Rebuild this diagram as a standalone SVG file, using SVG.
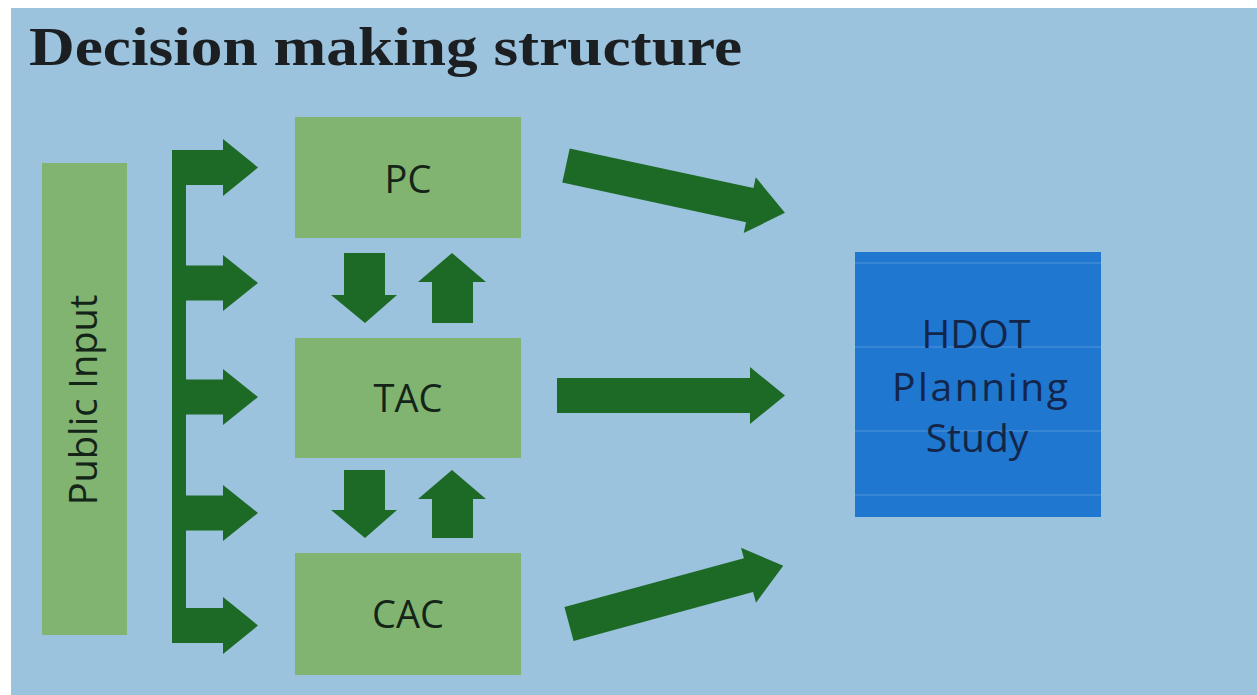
<svg xmlns="http://www.w3.org/2000/svg" width="1257" height="695" viewBox="0 0 1257 695">
  <style>
    .box { fill: #80b470; }
    .arrow { fill: #1d6a27; }
    .lbl { font-family: "Open Sans", "Liberation Sans", sans-serif; font-size: 38px; fill: #142418; text-anchor: middle; }
    .hlbl { font-family: "Open Sans", "Liberation Sans", sans-serif; font-size: 39px; fill: #13264a; text-anchor: middle; }
    .title { font-family: "Liberation Serif", "Times New Roman", serif; font-weight: bold; font-size: 54px; fill: #1c1f22; }
    .hline { stroke: #4f96da; stroke-width: 1.2; }
  </style>
  <rect x="0" y="0" width="1257" height="695" fill="#ffffff"/>
  <rect x="11" y="8" width="1246" height="687" fill="#9cc3dd"/>

  <text class="title" x="29" y="65" textLength="713" lengthAdjust="spacingAndGlyphs">Decision making structure</text>

  <g id="public-input">
    <rect class="box" x="42" y="163" width="85" height="472"/>
    <text class="lbl" transform="translate(97,400) rotate(-90)" x="0" y="0">Public Input</text>
  </g>

  <g id="pc">
    <rect class="box" x="295" y="117" width="226" height="121"/>
    <text class="lbl" x="408" y="193">PC</text>
  </g>

  <g id="tac">
    <rect class="box" x="295" y="338" width="226" height="120"/>
    <text class="lbl" x="408" y="412">TAC</text>
  </g>

  <g id="cac">
    <rect class="box" x="295" y="553" width="226" height="122"/>
    <text class="lbl" x="408" y="628">CAC</text>
  </g>

  <g id="hdot">
    <rect x="855" y="252" width="246" height="265" fill="#1f77d0"/>
    <line class="hline" x1="855" y1="263" x2="1101" y2="263"/>
    <line class="hline" x1="855" y1="347" x2="1101" y2="347"/>
    <line class="hline" x1="855" y1="431" x2="1101" y2="431"/>
    <line class="hline" x1="855" y1="495" x2="1101" y2="495"/>
    <text class="hlbl" x="976" y="348">HDOT</text>
    <text class="hlbl" x="980" y="401" textLength="176" lengthAdjust="spacing">Planning</text>
    <text class="hlbl" x="977" y="452">Study</text>
  </g>

  <g id="connectors">
    <!-- public input distribution bar -->
    <rect class="arrow" x="172" y="150" width="14" height="493"/>
    <path class="arrow" d="M172,150 H223 V139 L258,167.5 L223,196 V185 H172 Z"/>
    <path class="arrow" d="M172,265.5 H223 V255 L258,283 L223,311 V300.5 H172 Z"/>
    <path class="arrow" d="M172,379.5 H223 V369 L258,397 L223,425 V414.5 H172 Z"/>
    <path class="arrow" d="M172,495.5 H223 V485 L258,513 L223,541 V530.5 H172 Z"/>
    <path class="arrow" d="M172,608 H223 V597 L258,625.5 L223,654 V643 H172 Z"/>

    <!-- PC <-> TAC -->
    <path class="arrow" d="M344,253 H385 V295 H397 L365,323 L331,295 H344 Z"/>
    <path class="arrow" d="M432,323 H473 V282 H486 L452,253 L418,282 H432 Z"/>
    <!-- TAC <-> CAC -->
    <path class="arrow" d="M344,470 H385 V510 H397 L365,538 L331,510 H344 Z"/>
    <path class="arrow" d="M432,538 H473 V499 H486 L452,470 L418,499 H432 Z"/>

    <!-- to HDOT -->
    <path class="arrow" transform="translate(566,165.5) rotate(12.2)" d="M0,-17.5 H188 V-28.5 L224,0 L188,28.5 V17.5 H0 Z"/>
    <path class="arrow" d="M557,378 H750 V367 L785,395.5 L750,424 V413 H557 Z"/>
    <path class="arrow" transform="translate(569,624) rotate(-15.2)" d="M0,-17.5 H186 V-28.5 L222,0 L186,28.5 V17.5 H0 Z"/>
  </g>
</svg>
